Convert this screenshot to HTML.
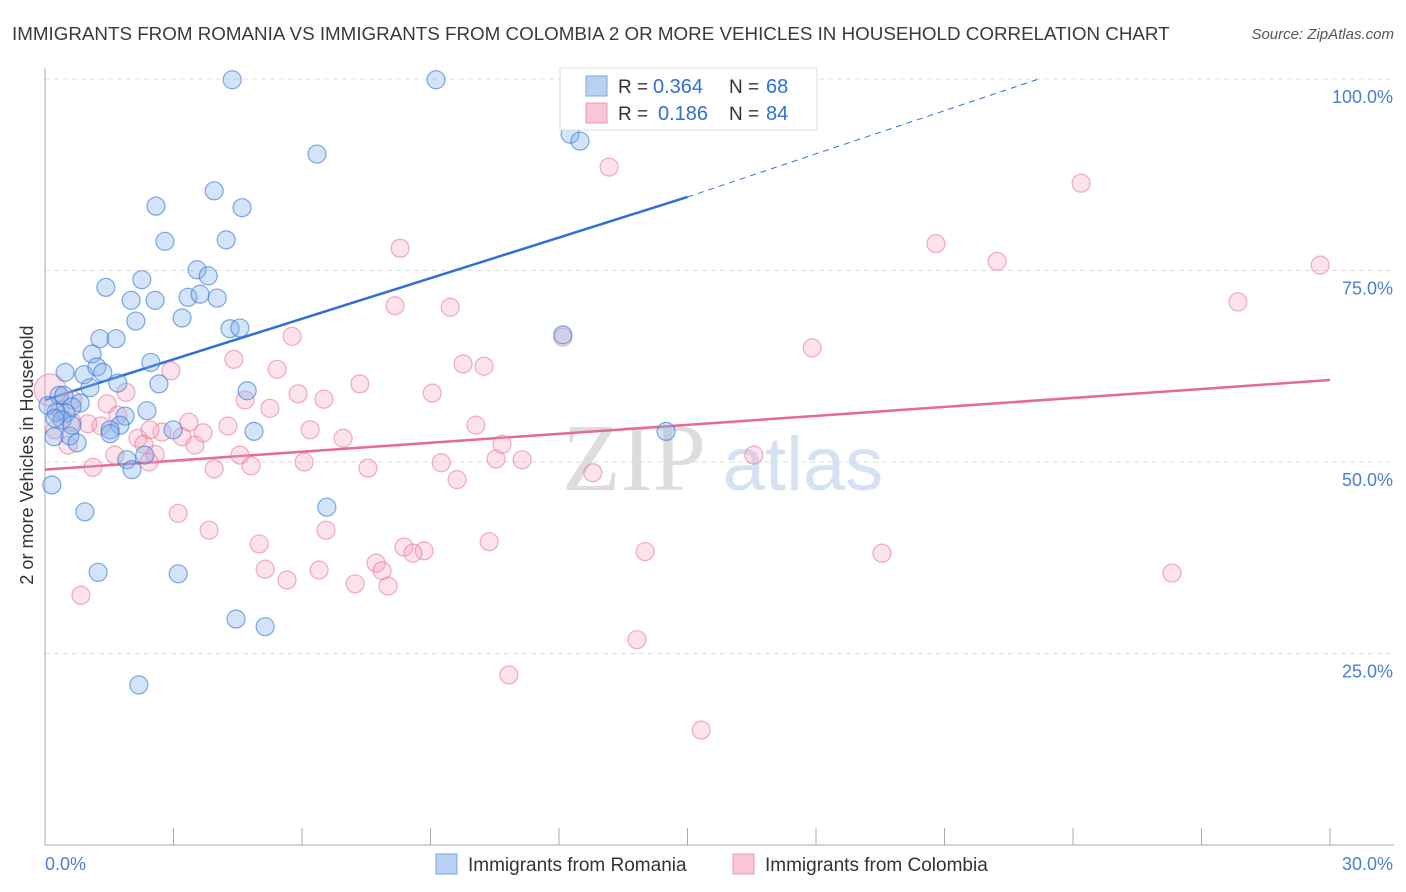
<!DOCTYPE html>
<html><head><meta charset="utf-8"><style>
body{margin:0;background:#fff;font-family:"Liberation Sans",sans-serif;}
svg{display:block}
</style></head><body>
<svg width="1406" height="892">
<text x="12" y="40" font-size="18.8" fill="#3a3a3a">IMMIGRANTS FROM ROMANIA VS IMMIGRANTS FROM COLOMBIA 2 OR MORE VEHICLES IN HOUSEHOLD CORRELATION CHART</text>
<text x="1394" y="39" font-size="15" fill="#555" text-anchor="end" font-style="italic">Source: ZipAtlas.com</text>
<text transform="translate(33,455) rotate(-90)" font-size="18" fill="#333" text-anchor="middle">2 or more Vehicles in Household</text>
<g><text x="634" y="490" font-size="96" fill="#ddd" font-family="Liberation Serif,serif" text-anchor="middle">ZIP</text><text x="803" y="490" font-size="76" fill="#d5e2f3" text-anchor="middle">atlas</text></g>
<g id="grid"></g><g id="axes"></g><g id="lines"></g><g id="pts"></g>
<g>
<rect x="560" y="68" width="257" height="62" fill="#fff" stroke="#ddd"/>
<rect x="586" y="76" width="21" height="20" fill="#b8d1f3" stroke="#7aa6e0"/>
<rect x="586" y="103" width="21" height="20" fill="#f9c6d5" stroke="#eb98b2"/>
<text x="618" y="93" font-size="19" fill="#333">R =</text>
<text x="653" y="93" font-size="20" fill="#2f6fd6">0.364</text>
<text x="729" y="93" font-size="19" fill="#333">N =</text>
<text x="766" y="93" font-size="20" fill="#2f6fd6">68</text>
<text x="618" y="120" font-size="19" fill="#333">R =</text>
<text x="658" y="120" font-size="20" fill="#2f6fd6">0.186</text>
<text x="729" y="120" font-size="19" fill="#333">N =</text>
<text x="766" y="120" font-size="20" fill="#2f6fd6">84</text>
</g>
<g>
<rect x="436" y="854" width="21" height="20" fill="#b8d1f3" stroke="#7aa6e0"/>
<text x="468" y="871" font-size="19" fill="#333">Immigrants from Romania</text>
<rect x="733" y="854" width="21" height="20" fill="#f9c6d5" stroke="#eb98b2"/>
<text x="765" y="871" font-size="19" fill="#333">Immigrants from Colombia</text>
</g>
</svg>
<script>
const blueX=[4.37,9.13,6.35,12.26,12.49,3.95,2.59,4.60,2.80,4.23,3.55,3.81,2.26,1.42,2.01,2.57,3.34,3.62,4.02,3.20,2.12,4.32,4.55,12.09,1.28,1.66,1.10,2.47,0.47,0.91,1.21,1.35,1.70,1.05,2.66,4.72,0.33,0.44,0.82,0.63,2.38,1.87,1.75,0.49,0.26,1.52,1.52,0.58,0.21,0.75,2.99,4.88,14.50,1.91,2.03,2.33,0.16,0.93,6.58,1.24,3.11,4.46,5.14,2.19,0.07,0.40,0.63,0.23];
const blueY=[99.9,99.9,90.2,92.8,91.9,85.4,83.4,83.2,78.8,79.0,75.1,74.3,73.8,72.8,71.1,71.1,71.5,71.9,71.4,68.8,68.4,67.4,67.5,66.6,66.1,66.1,64.1,63.0,61.7,61.4,62.4,61.7,60.3,59.7,60.2,59.3,58.7,58.7,57.7,57.2,56.7,56.0,54.8,56.4,56.5,54.2,53.7,53.4,53.3,52.5,54.2,54.0,54.0,50.3,49.0,50.9,47.0,43.5,44.1,35.6,35.4,29.5,28.5,20.9,57.4,55.5,54.8,55.7];
const pinkX=[13.17,24.19,8.29,20.80,22.23,27.85,29.77,8.17,9.46,5.77,12.09,17.91,4.41,5.42,2.94,9.76,10.25,7.35,9.04,5.91,6.51,1.89,4.67,5.25,1.45,3.36,10.06,6.19,6.96,2.73,3.20,1.70,1.00,1.31,0.63,2.17,2.31,3.69,4.27,3.50,4.55,2.57,2.43,4.81,6.05,7.54,9.25,10.53,11.14,10.67,3.95,1.12,9.62,12.79,16.55,3.11,3.83,6.56,5.00,8.38,10.37,14.01,19.54,5.14,6.40,7.73,8.85,8.59,5.65,7.24,8.01,7.87,26.31,0.84,13.82,10.83,15.32,0.12,0.35,0.65,1.63,0.23,0.54,2.45];
const pinkY=[88.5,86.4,77.9,78.5,76.2,70.9,75.7,70.4,70.2,66.4,66.3,64.9,63.4,62.1,61.9,62.8,62.5,60.2,59.0,58.9,58.2,59.1,58.1,57.0,57.6,55.2,54.8,54.2,53.1,53.9,53.3,56.1,55.0,54.7,55.2,53.1,52.3,53.8,54.7,52.2,50.9,51.0,50.0,49.5,50.0,49.2,49.9,50.4,50.3,52.3,49.1,49.3,47.7,48.6,50.9,43.3,41.1,41.1,39.3,38.9,39.6,38.3,38.1,36.0,35.9,36.8,38.4,38.1,34.6,34.1,33.8,35.8,35.5,32.6,26.8,22.2,15.0,59.4,56.8,58.1,50.9,54.2,52.2,54.2];
const pinkBig=[77];
const yTicks=[25,50,75,100];
const xTickCount=[0,3,6,9,12,15,18,21,24,27,30];
const blueTrend=[58.1,84.6];
const blueTrendDash=[23.2,100];
const pinkTrend=[49.0,60.7];
const X=v=>45+v*1285/30, Y=v=>845-v*7.66;
const NS='http://www.w3.org/2000/svg';
function mk(t,a,p){const e=document.createElementNS(NS,t);for(const k in a)e.setAttribute(k,a[k]);document.getElementById(p).appendChild(e);return e;}
yTicks.forEach(t=>{
 const g=mk('line',{x1:45,x2:1394,y1:Y(t),y2:Y(t),stroke:'#ddd','stroke-dasharray':'5,4'},'grid');
 
 
 const l=mk('text',{x:1393,y:Y(t)+24,'font-size':18,fill:'#4a7fd0','text-anchor':'end'},'grid');
 l.textContent=t.toFixed(1)+'%';
 
 
});
const ax=mk('line',{x1:45,x2:45,y1:68,y2:845,stroke:'#aaa'},'axes');


const bx=mk('line',{x1:45,x2:1394,y1:845,y2:845,stroke:'#aaa'},'axes');


xTickCount.forEach(t=>{const e=mk('line',{x1:X(t),x2:X(t),y1:828,y2:845,stroke:'#aaa'},'axes');
 
 });
const l0=mk('text',{x:45,y:870,'font-size':18,fill:'#4a7fd0'},'axes');l0.textContent='0.0%';


const l1=mk('text',{x:1393,y:870,'font-size':18,fill:'#4a7fd0','text-anchor':'end'},'axes');l1.textContent='30.0%';


pinkX.forEach((v,i)=>{const c=mk('circle',{cx:X(v),cy:Y(pinkY[i]),r:pinkBig.includes(i)?16:9,fill:'rgba(245,160,185,0.3)',stroke:'rgba(232,120,155,0.6)','stroke-width':1.2},'pts');
 
 });
blueX.forEach((v,i)=>{const c=mk('circle',{cx:X(v),cy:Y(blueY[i]),r:9,fill:'rgba(130,175,235,0.35)',stroke:'rgba(60,125,215,0.65)','stroke-width':1.2},'pts');
 
 });
const b1=mk('line',{x1:X(0),y1:Y(blueTrend[0]),x2:X(15),y2:Y(blueTrend[1]),stroke:'#2f6fd6','stroke-width':2.5},'lines');


const b2=mk('line',{x1:X(15),y1:Y(blueTrend[1]),x2:X(blueTrendDash[0]),y2:Y(blueTrendDash[1]),stroke:'#2f6fd6','stroke-width':1,'stroke-dasharray':'6,5'},'lines');


const p1=mk('line',{x1:X(0),y1:Y(pinkTrend[0]),x2:X(30),y2:Y(pinkTrend[1]),stroke:'#e56a94','stroke-width':2.5},'lines');


</script>
</body></html>
